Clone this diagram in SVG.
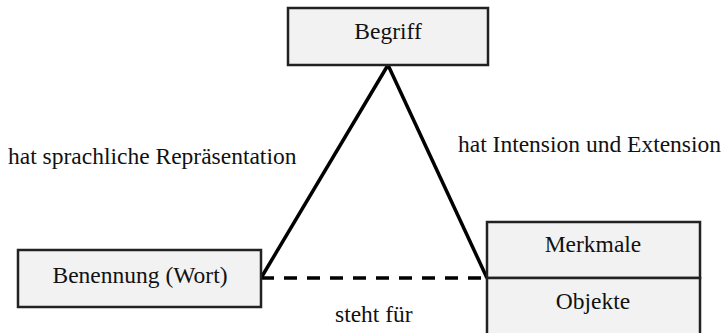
<svg xmlns="http://www.w3.org/2000/svg" width="727" height="333" viewBox="0 0 727 333">
<style>
.box{fill:#f2f2f2;stroke:#222;stroke-width:2.5}
.t{font-family:"Liberation Serif","Times New Roman",serif;font-size:23.5px;fill:#111}
.c{text-anchor:middle}
.ln{stroke:#000;stroke-width:3.5;fill:none}
</style>
<rect width="727" height="333" fill="#fff"/>
<g id="connectors">
<line class="ln" x1="261" y1="278" x2="388" y2="65"/>
<line class="ln" x1="388" y1="65" x2="487" y2="278"/>
<line class="ln" x1="261" y1="278" x2="487" y2="278" stroke-dasharray="13,10"/>
</g>
<g id="begriff">
<rect class="box" x="288" y="8" width="200" height="57"/>
<text class="t c" x="388" y="39">Begriff</text>
</g>
<g id="benennung">
<rect class="box" x="18" y="250" width="243" height="57"/>
<text class="t c" x="140" y="283">Benennung (Wort)</text>
</g>
<g id="merkmale">
<rect class="box" x="487" y="222" width="213" height="56"/>
<text class="t c" x="593" y="252">Merkmale</text>
</g>
<g id="objekte">
<rect class="box" x="487" y="278" width="213" height="60"/>
<text class="t c" x="593" y="309">Objekte</text>
</g>
<g id="labels">
<text class="t" x="8" y="164">hat sprachliche Repräsentation</text>
<text class="t" x="458" y="152">hat Intension und Extension</text>
<text class="t" x="335" y="322">steht für</text>
</g>
</svg>
